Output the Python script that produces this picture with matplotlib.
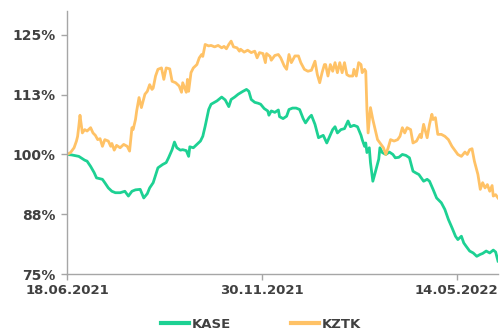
import pandas as pd
import matplotlib
matplotlib.use('Agg')
import matplotlib.pyplot as plt

# data: day offsets from start date, index level in %
start = pd.Timestamp('2021-06-18')

kase_days = [0, 4, 10, 15, 17, 20, 23, 25, 30, 32, 35, 38, 41, 45, 49, 52, 55, 58, 62, 65,
             68, 70, 73, 77, 81, 84, 86, 89, 91, 93, 96, 98, 101, 103, 104, 107, 110, 113, 115, 117,
             120, 122, 127, 131, 134, 137, 139, 142, 145, 149, 152, 154, 156, 159, 162, 164, 167, 170, 171, 173,
             176, 179, 180, 183, 186, 188, 191, 194, 197, 200, 202, 205, 207, 210, 213, 217, 220, 222, 225, 227,
             229, 232, 235, 238, 240, 243, 246, 249, 250, 252, 253, 254, 256, 257, 259, 261, 264, 265, 267, 270,
             273, 276, 278, 281, 284, 287, 290, 293, 295, 298, 300, 302, 305, 307, 310, 313, 317, 320, 323, 326,
             329, 331, 334, 336, 338, 341, 344, 347, 350, 352, 355, 358, 361, 363, 365]
kase_vals = [100.0, 99.9, 99.6, 98.8, 98.6, 97.5, 96.2, 95.1, 94.8, 94.1, 93.0, 92.3, 92.0, 92.0, 92.3, 91.3, 92.3, 92.6, 92.7, 90.9,
             91.8, 93.0, 94.1, 97.2, 97.9, 98.3, 99.3, 101.0, 102.6, 101.4, 100.9, 101.0, 100.8, 99.6, 101.6, 101.4, 102.1, 102.8, 103.8, 105.9,
             109.4, 110.5, 111.2, 112.0, 111.4, 110.0, 111.5, 112.0, 112.6, 113.2, 113.6, 113.2, 111.5, 110.9, 110.7, 110.5, 109.6, 109.1, 108.2, 109.1,
             108.8, 109.3, 107.9, 107.5, 108.0, 109.4, 109.7, 109.7, 109.4, 107.5, 106.6, 107.7, 108.2, 106.3, 103.5, 104.0, 102.4, 103.5, 105.2, 105.8,
             104.5, 105.2, 105.4, 107.0, 105.8, 106.1, 105.8, 104.0, 103.1, 101.7, 102.4, 100.4, 101.4, 98.3, 94.4, 96.2, 99.0, 101.4, 100.4, 100.0,
             100.5, 100.0, 99.3, 99.4, 100.0, 99.8, 99.3, 96.5, 96.2, 95.8, 95.1, 94.4, 94.8, 94.4, 92.7, 90.9, 89.9, 88.5, 86.4, 84.7,
             82.9, 82.2, 82.9, 81.5, 80.8, 79.8, 79.4, 78.7, 79.1, 79.3, 79.8, 79.4, 80.0, 79.6, 77.7]

kztk_days = [0, 3, 6, 8, 9, 10, 11, 12, 13, 15, 17, 20, 22, 24, 26, 28, 30, 32, 35, 37,
             38, 40, 42, 45, 48, 51, 53, 55, 56, 58, 59, 61, 63, 66, 68, 70, 72, 73, 75, 77,
             80, 82, 84, 87, 89, 92, 95, 97, 98, 101, 102, 103, 105, 107, 110, 112, 114, 115, 117, 120,
             122, 125, 128, 131, 133, 135, 137, 139, 141, 144, 146, 147, 150, 153, 156, 159, 161, 163, 166, 168,
             169, 172, 173, 176, 179, 181, 184, 186, 188, 190, 193, 196, 198, 201, 204, 207, 210, 212, 214, 216,
             218, 219, 221, 223, 225, 227, 229, 231, 233, 235, 237, 239, 242, 243, 245, 247, 249, 250, 252, 253,
             254, 255, 257, 259, 261, 263, 266, 268, 270, 272, 274, 277, 280, 282, 284, 286, 288, 291, 293, 296,
             299, 300, 302, 305, 307, 309, 310, 312, 314, 317, 320, 323, 326, 329, 331, 334, 337, 339, 341, 343,
             345, 348, 350, 352, 354, 356, 358, 360, 361, 363, 365]
kztk_vals = [100.0, 100.4, 101.4, 102.8, 103.8, 105.9, 108.2, 106.3, 104.5, 105.2, 104.9, 105.6, 104.5, 104.0, 103.1, 103.3, 101.7, 103.1, 102.8, 101.7,
             102.3, 100.9, 101.9, 101.4, 102.1, 101.7, 100.7, 105.6, 105.2, 107.3, 109.1, 111.9, 109.8, 112.6, 113.2, 114.6, 113.6, 113.9, 116.4, 117.8,
             118.1, 115.7, 118.1, 117.9, 115.3, 115.0, 114.3, 113.0, 115.0, 113.0, 115.7, 113.2, 117.1, 118.1, 118.8, 120.2, 120.9, 120.5, 123.0, 122.7,
             122.8, 122.5, 122.8, 122.3, 122.6, 122.1, 123.0, 123.7, 122.5, 122.3, 121.6, 122.0, 121.4, 121.8, 121.3, 121.6, 120.2, 121.3, 121.1, 119.2,
             121.1, 120.5, 119.7, 120.7, 120.9, 120.2, 118.5, 117.8, 120.9, 119.2, 120.6, 120.6, 119.2, 117.8, 117.4, 117.6, 119.5, 116.7, 115.0, 117.1,
             118.8, 118.8, 116.4, 118.8, 117.4, 119.2, 117.1, 119.2, 117.1, 119.2, 116.7, 116.4, 116.4, 117.8, 116.4, 119.2, 118.8, 117.1, 117.8, 117.4,
             109.4, 104.5, 109.8, 107.3, 105.2, 103.1, 102.1, 101.4, 100.0, 101.4, 103.1, 102.8, 103.1, 103.8, 105.6, 104.5, 105.6, 105.2, 102.4, 102.8,
             104.2, 103.5, 106.3, 103.5, 106.3, 108.4, 107.3, 107.7, 104.2, 104.2, 103.8, 103.1, 101.7, 100.7, 100.0, 99.6, 100.5, 100.0, 101.0, 101.2,
             98.6, 95.8, 92.7, 94.1, 93.0, 93.7, 92.3, 93.5, 91.3, 91.6, 90.9]

y_ticks = [75, 87.5, 100, 112.5, 125]
y_labels = ['75%', '88%', '100%', '113%', '125%']
x_ticks = ['2021-06-18', '2021-11-30', '2022-05-14']
x_labels = ['18.06.2021', '30.11.2021', '14.05.2022']

txt = '#404040'
axis_col = '#a6a6a6'

fig = plt.figure(figsize=(5.02, 3.31), dpi=100)
ax = fig.add_axes([67 / 502, 57 / 331, 431 / 502, 263 / 331])

kase_dates = start + pd.to_timedelta(kase_days, unit='D')
kztk_dates = start + pd.to_timedelta(kztk_days, unit='D')

ax.plot(kase_dates, kase_vals, color='#1dd193', lw=2.0, label='KASE')
ax.plot(kztk_dates, kztk_vals, color='#ffc266', lw=2.0, label='KZTK')

ax.set_xlim(start, start + pd.Timedelta(days=365))
ax.set_ylim(75, 130)
ax.set_yticks(y_ticks)
ax.set_yticklabels(y_labels)
ax.set_xticks(pd.to_datetime(x_ticks))
ax.set_xticklabels(x_labels)

for s in ['top', 'right']:
    ax.spines[s].set_visible(False)
for s in ['left', 'bottom']:
    ax.spines[s].set_color(axis_col)
    ax.spines[s].set_linewidth(1.0)

ax.tick_params(axis='both', colors=axis_col, length=4, width=1.0,
               labelsize=9.5, labelcolor=txt)
ax.tick_params(axis='x', pad=3)
ax.tick_params(axis='y', pad=4, labelsize=10)
for lab in ax.get_xticklabels() + ax.get_yticklabels():
    lab.set_fontweight('bold')

leg = fig.legend(loc='lower center', bbox_to_anchor=(0.52, -0.035), ncol=2, frameon=False,
                 handlelength=2.1, handletextpad=0.2, columnspacing=4.6,
                 prop={'size': 9.5, 'weight': 'bold'})
for t in leg.get_texts():
    t.set_color(txt)
for h in leg.get_lines():
    h.set_linewidth(3.0)

fig.savefig('out.png', dpi=100)
